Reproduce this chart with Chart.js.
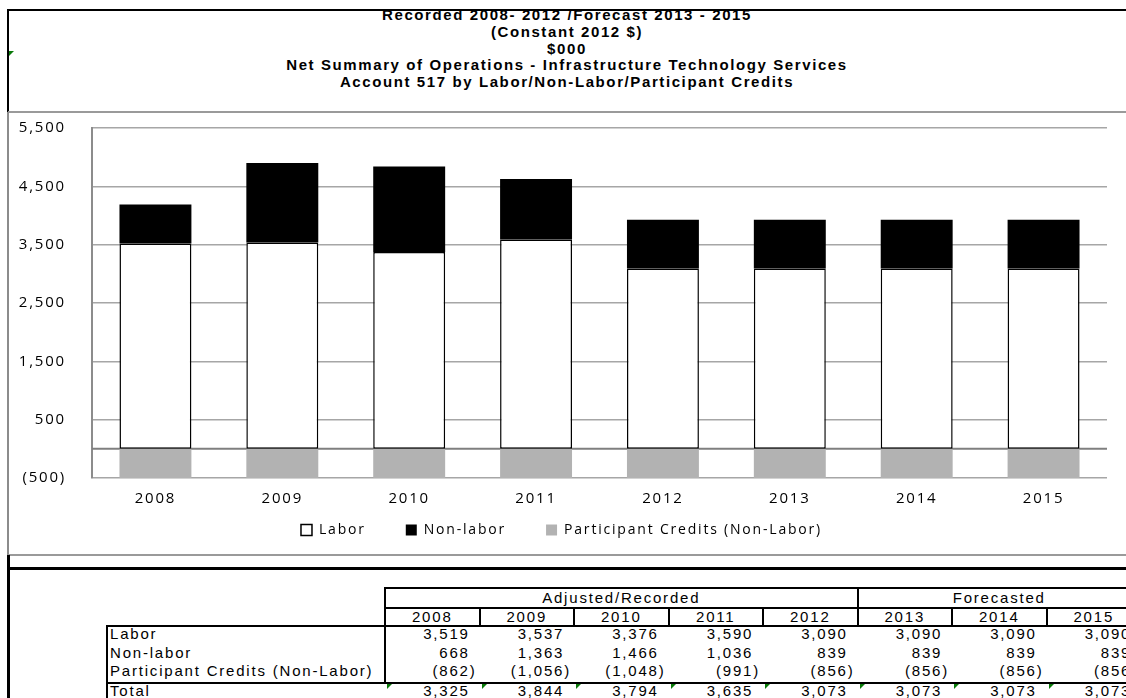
<!DOCTYPE html>
<html>
<head>
<meta charset="utf-8">
<script src="https://cdn.jsdelivr.net/npm/chart.js@4"></script>
<style>
  html, body { margin: 0; padding: 0; background: #fff; }
  body { width: 1126px; height: 698px; overflow: hidden; position: relative; }
  .ln { position: absolute; background: #000; }
  .gl { position: absolute; background: #8c8c8c; }
  #title { position: absolute; left: 8px; width: 1118px; top: 7px; text-align: center;
           font: bold 15px "Liberation Sans", Arial, sans-serif; line-height: 16.8px; color: #000; letter-spacing: 1.6px; }
  .tx { position: absolute; font: 15px "Liberation Sans", Arial, sans-serif; color: #000; letter-spacing: 1.8px; white-space: nowrap; line-height: 18px; }
  .tri { position: absolute; width: 0; height: 0; border-top: 5px solid #0a7a0a; border-right: 5px solid transparent; }
  #wrap { position: absolute; left: 8px; top: 93px; width: 1107px; height: 491px; }
</style>
</head>
<body>
<div id="title">
  Recorded 2008- 2012 /Forecast 2013 - 2015<br>
  (Constant 2012 $)<br>
  $000<br>
  Net Summary of Operations - Infrastructure Technology Services<br>
  Account 517 by Labor/Non-Labor/Participant Credits
</div>

<!-- frame -->
<div class="ln" style="left:7px; top:9px; width:1119px; height:2px;"></div>
<div class="ln" style="left:7px; top:9px; width:2px; height:103px;"></div>
<div class="gl" style="left:8px; top:111px; width:1118px; height:2px; background:#9a9a9a;"></div>
<div class="gl" style="left:7px; top:112px; width:2px; height:443px;"></div>
<div class="gl" style="left:8px; top:554px; width:1118px; height:2px; background:#9a9a9a;"></div>
<div class="ln" style="left:7px; top:555px; width:3px; height:143px;"></div>
<div class="ln" style="left:7px; top:567px; width:1119px; height:3px;"></div>
<div class="tri" style="left:9px; top:51px;"></div>

<div id="wrap"><canvas id="c" width="1107" height="491"></canvas></div>

<div id="table"></div>

<script>
const years = ['2008', '2009', '2010', '2011', '2012', '2013', '2014', '2015'];
const labor = [3519, 3537, 3376, 3590, 3090, 3090, 3090, 3090];
const nonLabor = [668, 1363, 1466, 1036, 839, 839, 839, 839];
const participantCredits = [-862, -1056, -1048, -991, -856, -856, -856, -856];
const totals = [3325, 3844, 3794, 3635, 3073, 3073, 3073, 3073];
const rowLabels = ['Labor', 'Non-labor', 'Participant Credits (Non-Labor)', 'Total'];
const groupLabels = ['Adjusted/Recorded', 'Forecasted'];

function fmt(v) {
  const s = Math.abs(v).toLocaleString('en-US');
  return v < 0 ? '(' + s + ')' : s;
}

const LEGEND_CENTER_Y = 437; // canvas px (page y 530)
const spacing = {
  id: 'spacing',
  beforeLayout(chart) { chart.ctx.letterSpacing = '1.8px'; },
  afterLayout(chart) {
    const lg = chart.legend;
    const pad = lg.options.labels.padding;
    const d = (lg.top + pad + 7) - LEGEND_CENTER_Y;
    lg.top -= d; lg.bottom -= d;
  },
  beforeDraw(chart) { chart.ctx.letterSpacing = '1.8px'; }
};

const zeroLine = {
  id: 'zeroLine',
  beforeDatasetsDraw(chart) {
    const {ctx, chartArea, scales} = chart;
    const y = scales.y.getPixelForValue(0);
    ctx.save();
    ctx.strokeStyle = '#7f7f7f';
    ctx.lineWidth = 2;
    ctx.beginPath();
    ctx.moveTo(chartArea.left, y);
    ctx.lineTo(chartArea.right, y);
    ctx.stroke();
    ctx.restore();
  }
};

const FONT = 'Open Sans';
new Chart(document.getElementById('c'), {
  type: 'bar',
  data: {
    labels: years,
    datasets: [
      { label: 'Labor', data: labor, backgroundColor: '#ffffff', borderColor: '#000000', borderWidth: 1.5, borderSkipped: false },
      { label: 'Non-labor', data: nonLabor, backgroundColor: '#000000', borderColor: '#000000', borderWidth: 0 },
      { label: 'Participant Credits (Non-Labor)', data: participantCredits, backgroundColor: '#b2b2b2', borderColor: '#b2b2b2', borderWidth: 0 }
    ]
  },
  options: {
    responsive: false,
    animation: false,
    devicePixelRatio: 1,
    categoryPercentage: 1,
    barPercentage: 0.567,
    layout: { padding: { left: 8, right: 8, top: 0, bottom: 0 } },
    plugins: {
      tooltip: { enabled: false },
      title: { display: false },
      legend: {
        position: 'bottom',
        labels: {
          font: { family: FONT, size: 14 },
          color: '#000',
          boxWidth: 11,
          boxHeight: 11,
          padding: 40
        }
      }
    },
    scales: {
      x: {
        stacked: true,
        grid: { display: false, drawTicks: false },
        border: { display: false },
        ticks: { font: { family: FONT, size: 15 }, color: '#000', padding: 12 }
      },
      y: {
        stacked: true,
        min: -500,
        max: 5500,
        grid: { color: '#a6a6a6', lineWidth: 1.5, drawTicks: false },
        border: { display: true, color: '#8c8c8c', width: 2 },
        ticks: {
          stepSize: 1000,
          padding: 26,
          font: { family: FONT, size: 15 },
          color: '#000',
          callback: (v) => fmt(v)
        },
        afterFit(s) { s.width = 76; }
      }
    }
  },
  plugins: [spacing, zeroLine]
});

// ---- data table ----
(function buildTable() {
  const T = document.getElementById('table');
  const add = (html) => T.insertAdjacentHTML('beforeend', html);
  const line = (l, t, w, h) => add(`<div class="ln" style="left:${l}px;top:${t}px;width:${w}px;height:${h}px"></div>`);
  const x0 = 385, cw = 94.5;
  const edges = years.map((_, i) => x0 + i * cw).concat([x0 + years.length * cw]);
  line(384, 587, 742, 2);
  line(384, 587, 2, 96);
  line(384, 607, 742, 2);
  line(Math.round(edges[5]) - 1, 587, 2, 39);
  for (let i = 1; i < years.length; i++) line(Math.round(edges[i]) - 1, 607, 2, 19);
  line(106, 625, 1020, 2);
  line(106, 625, 2, 73);
  line(106, 682, 1020, 2);
  const gl = [[edges[0], edges[5]], [edges[5], edges[8]]];
  groupLabels.forEach((g, i) => {
    add(`<div class="tx" style="left:${gl[i][0]}px;width:${gl[i][1] - gl[i][0]}px;top:589px;text-align:center">${g}</div>`);
  });
  years.forEach((y, i) => {
    add(`<div class="tx" style="left:${edges[i]}px;width:${cw}px;top:608px;text-align:center">${y}</div>`);
  });
  const rowsTop = [625, 644, 662, 682];
  const rows = [labor, nonLabor, participantCredits, totals];
  rowLabels.forEach((lab, r) => {
    add(`<div class="tx" style="left:110px;top:${rowsTop[r]}px">${lab}</div>`);
    rows[r].forEach((v, i) => {
      const txt = fmt(v) + (v < 0 ? '' : '<span style="visibility:hidden">)</span>');
      add(`<div class="tx" style="left:${edges[i]}px;width:${cw - 3}px;top:${rowsTop[r]}px;text-align:right">${txt}</div>`);
    });
  });
  years.forEach((_, i) => add(`<div class="tri" style="left:${Math.round(edges[i]) + 2}px;top:684px"></div>`));
})();
</script>
</body>
</html>
